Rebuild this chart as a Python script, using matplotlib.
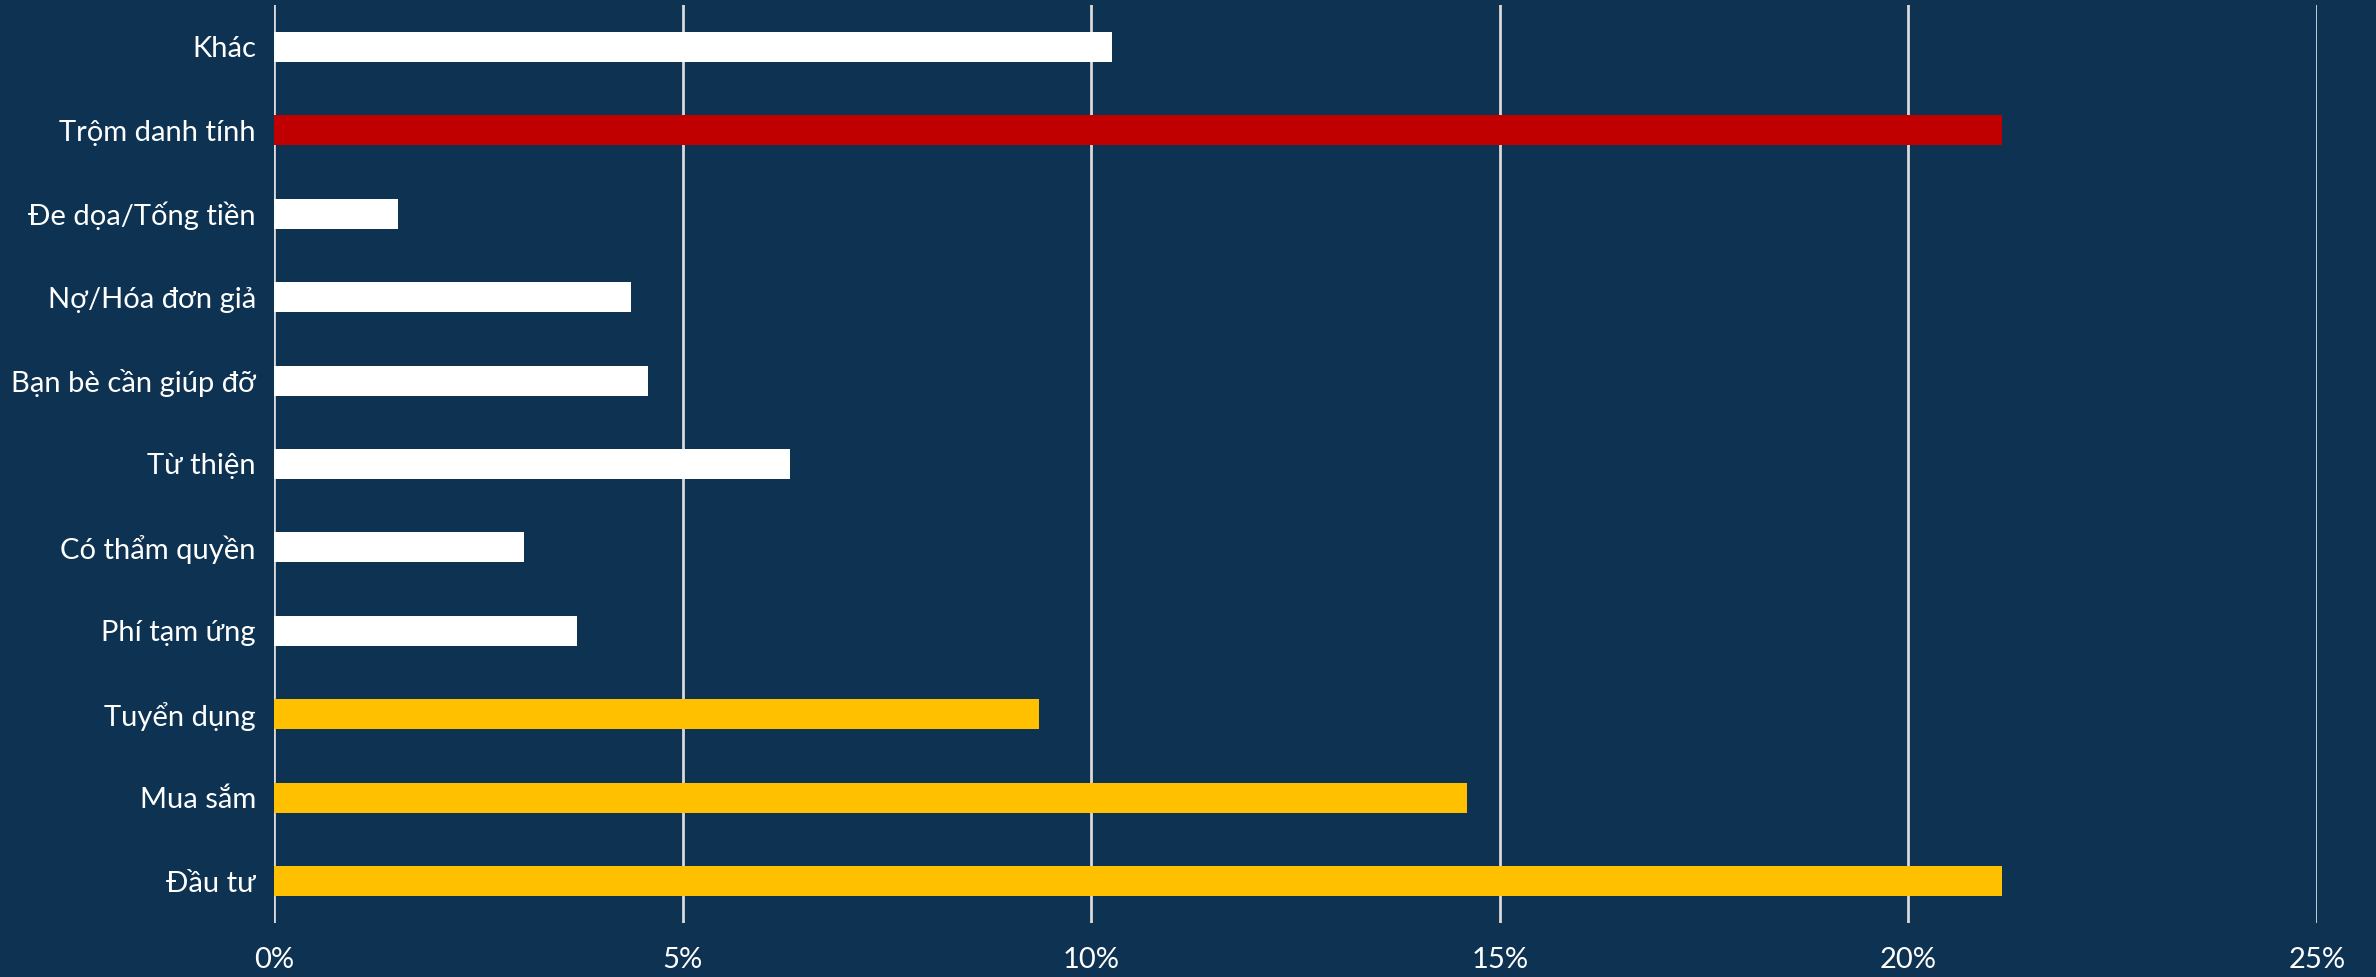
import matplotlib
matplotlib.use("Agg")
import matplotlib.pyplot as plt
from matplotlib.ticker import FuncFormatter

categories = ["Đầu tư", "Mua sắm", "Tuyển dụng", "Phí tạm ứng", "Có thẩm quyền",
              "Từ thiện", "Bạn bè cần giúp đỡ", "Nợ/Hóa đơn giả",
              "Đe dọa/Tống tiền", "Trộm danh tính", "Khác"]
values = [21.15, 14.6, 9.36, 3.71, 3.06, 6.32, 4.58, 4.37, 1.52, 21.15, 10.25]
colors = ["#FFC000", "#FFC000", "#FFC000", "#FFFFFF", "#FFFFFF", "#FFFFFF",
          "#FFFFFF", "#FFFFFF", "#FFFFFF", "#C00000", "#FFFFFF"]
xticks = [0, 5, 10, 15, 20, 25]

BG = "#0E3352"
plt.rcParams['font.family'] = ['Lato', 'DejaVu Sans']

fig = plt.figure(figsize=(23.76, 9.77), dpi=100, facecolor=BG)
ax = fig.add_axes([274/2376, 1-923/977, (2317-274)/2376, (923-5)/977])
ax.set_facecolor(BG)

ypos = list(range(len(categories)))
ax.barh(ypos, values, height=0.36, color=colors, zorder=3)

ax.set_xlim(0, 25)
ax.set_ylim(-0.5, len(categories) - 0.5)
ax.set_xticks(xticks)
ax.xaxis.set_major_formatter(FuncFormatter(lambda v, p: f"{int(v)}%"))
ax.set_yticks(ypos)
ax.set_yticklabels(categories)
ax.grid(axis='x', color="#D9D9D9", linewidth=2, zorder=1)
ax.grid(axis='y', visible=False)
for s in ax.spines.values():
    s.set_visible(False)
ax.tick_params(axis='both', length=0, colors="white", labelsize=21)
ax.tick_params(axis='y', pad=13)
ax.tick_params(axis='x', pad=17)

fig.savefig("out.png", dpi=100, facecolor=BG)
